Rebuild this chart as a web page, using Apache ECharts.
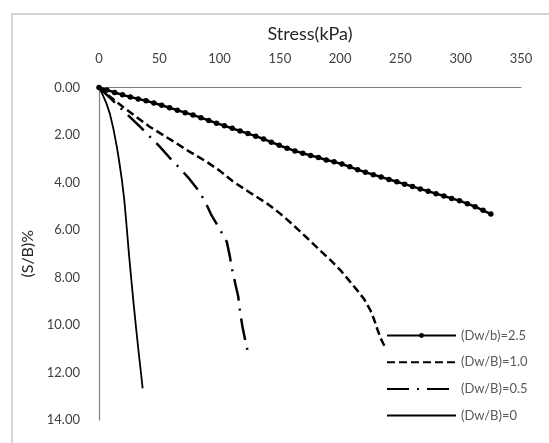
<!DOCTYPE html>
<html>
<head>
<meta charset="utf-8">
<script src="https://cdn.jsdelivr.net/npm/echarts@6/dist/echarts.min.js"></script>
<style>
html,body{margin:0;padding:0;background:#fff;}
#c{width:549px;height:443px;}
</style>
</head>
<body>
<div id="c"></div>
<script>
// Stress (kPa) vs settlement ratio (S/B)%
const stress25 = [0,6.5,13,19.5,26,32.5,39,45.5,52,58.5,65,71.5,78,84.5,91,97.5,104,110.5,117,123.5,130,136.5,143,149.5,156,162.5,169,175.5,182,188.5,195,201.5,208,214.5,221,227.5,234,240.5,247,253.5,260,266.5,273,279.5,286,292.5,299,305.5,312,318.5,325];
const settle25 = [0,0.10,0.21,0.31,0.40,0.48,0.56,0.65,0.75,0.85,0.96,1.06,1.16,1.27,1.39,1.50,1.61,1.72,1.83,1.94,2.05,2.17,2.30,2.43,2.56,2.67,2.77,2.86,2.95,3.05,3.13,3.22,3.34,3.46,3.57,3.67,3.77,3.87,3.97,4.07,4.17,4.27,4.37,4.47,4.57,4.67,4.77,4.89,5.02,5.17,5.33];

const stress10 = [0,10,20,30,42,62,75,89,100,111,125,139,150,158,167,175,183,192,200,207,214,220,225,228,231,234,237];
const settle10 = [0,0.42,0.82,1.20,1.65,2.28,2.70,3.12,3.50,3.95,4.42,4.87,5.30,5.65,6.07,6.45,6.84,7.27,7.68,8.10,8.53,8.92,9.37,9.75,10.20,10.60,10.91];

const stress05 = [0,10,20,34,50,59,67,75,82,88,93,100,106,108.5,110.5,113,115.5,117,119,121.5,124];
const settle05 = [0,0.48,0.97,1.65,2.47,2.98,3.40,3.85,4.30,4.80,5.35,5.95,6.50,7.10,7.68,8.25,8.81,9.45,10.07,10.70,11.26];

const stress0 = [0,3,6,9,12,15,17,19,21,22.5,25,27,29,31,33,35,36.2];
const settle0 = [0,0.30,0.65,1.10,1.75,2.55,3.20,3.90,4.75,5.60,7.10,8.20,9.25,10.25,11.20,12.10,12.67];

const seriesNames = ['(Dw/b)=2.5','(Dw/B)=1.0','(Dw/B)=0.5','(Dw/B)=0'];
const xTicks = {min:0, max:350, interval:50};
const yTicks = {min:0, max:14, interval:2};

const zip = (a,b) => a.map((v,i)=>[v,b[i]]);
const FONT = 'Lato, "Open Sans", sans-serif';

const chart = echarts.init(document.getElementById('c'));
chart.setOption({
  animation:false,
  backgroundColor:'#fff',
  textStyle:{fontFamily:FONT},
  graphic:[{
    type:'rect', shape:{x:12,y:14,width:600,height:500},
    style:{fill:'none',stroke:'#d4d4d4',lineWidth:2}, silent:true
  }],
  grid:{left:99, top:87.5, width:422, height:332.5, containLabel:false},
  legend:{
    orient:'vertical', left:386, top:329, padding:0,
    itemWidth:69, itemHeight:6, itemGap:13.7,
    textStyle:{color:'#595959', fontSize:13, fontFamily:FONT},
    data:[
      {name:seriesNames[0]},
      {name:seriesNames[1], itemStyle:{opacity:0}},
      {name:seriesNames[2], itemStyle:{opacity:0}},
      {name:seriesNames[3], itemStyle:{opacity:0}}
    ]
  },
  xAxis:{
    type:'value', position:'top', min:xTicks.min, max:xTicks.max, interval:xTicks.interval,
    name:'Stress(kPa)', nameLocation:'middle', nameGap:44,
    nameTextStyle:{fontSize:18, color:'#262626', fontFamily:FONT},
    axisLine:{show:true, lineStyle:{color:'#808080', width:1.2}},
    axisTick:{show:false},
    axisLabel:{margin:22, fontSize:13, color:'#404040', fontFamily:FONT},
    splitLine:{show:false}
  },
  yAxis:{
    type:'value', inverse:true, min:yTicks.min, max:yTicks.max, interval:yTicks.interval,
    name:'(S/B)%', nameLocation:'middle', nameGap:62, nameRotate:90,
    nameTextStyle:{fontSize:16, color:'#262626', fontFamily:FONT},
    axisLine:{show:true, onZero:false, lineStyle:{color:'#808080', width:1.2}},
    axisTick:{show:false},
    axisLabel:{margin:19, fontSize:13, color:'#404040', fontFamily:FONT, formatter:v=>v.toFixed(2)},
    splitLine:{show:false}
  },
  series:[
    {name:seriesNames[0], type:'line', data:zip(stress25,settle25), showSymbol:true, showAllSymbol:true,
     symbol:'circle', symbolSize:5.5, itemStyle:{color:'#000'}, lineStyle:{color:'#000', width:2.5}},
    {name:seriesNames[1], type:'line', data:zip(stress10,settle10), showSymbol:false, symbol:'none',
     itemStyle:{color:'#000'}, lineStyle:{color:'#000', width:2.5, type:[8,4]}},
    {name:seriesNames[2], type:'line', data:zip(stress05,settle05), showSymbol:false, symbol:'none',
     itemStyle:{color:'#000'}, lineStyle:{color:'#000', width:2.5, type:[22,8,2,8]}},
    {name:seriesNames[3], type:'line', data:zip(stress0,settle0), showSymbol:false, symbol:'none',
     itemStyle:{color:'#000'}, lineStyle:{color:'#000', width:1.8}}
  ]
});
</script>
</body>
</html>
